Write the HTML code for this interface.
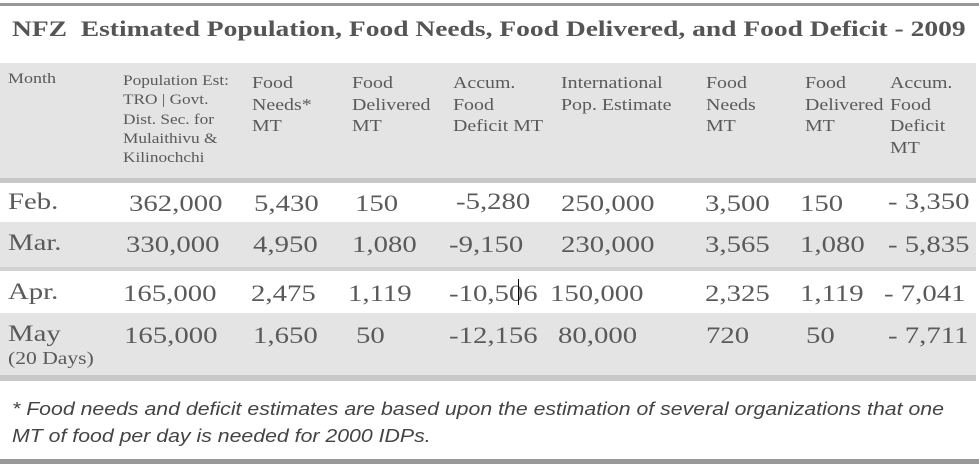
<!DOCTYPE html>
<html><head><style>
body{margin:0;width:979px;height:468px;background:#fff;position:relative;overflow:hidden;font-family:"Liberation Serif",serif;color:#5a5a5a}
div{position:absolute}
.t{white-space:nowrap;transform-origin:0 0}
.h{font-size:17px;line-height:21.5px;top:72px;transform:scaleX(1.17);transform-origin:0 0;white-space:nowrap}
.d{font-size:23px;white-space:nowrap;transform:scaleX(1.25);transform-origin:0 0}
</style></head><body>
<div style="left:0;top:3px;width:979px;height:3px;background:#999"></div>
<div class="t" style="left:12px;top:16px;font-size:22px;font-weight:bold;color:#555;transform:scaleX(1.25)">NFZ&nbsp; Estimated Population, Food Needs, Food Delivered, and Food Deficit - 2009</div>
<div style="left:0;top:63px;width:976px;height:115px;background:#e4e4e4"></div>
<div style="left:0;top:178px;width:976px;height:5px;background:#c8c8c8"></div>
<div style="left:0;top:222px;width:976px;height:45px;background:#e4e4e4"></div>
<div style="left:0;top:267px;width:976px;height:4px;background:#d2d2d2"></div>
<div style="left:0;top:313px;width:976px;height:62px;background:#e4e4e4"></div>
<div style="left:0;top:375px;width:976px;height:6px;background:#c8c8c8"></div>
<div style="left:0;top:459px;width:979px;height:5px;background:#999"></div>

<div class="t" style="left:8px;top:71px;font-size:15px;transform:scaleX(1.2)">Month</div>
<div class="t" style="left:123px;top:72px;font-size:15px;line-height:19.3px;transform:scaleX(1.15)">Population Est:<br>TRO | Govt.<br>Dist. Sec. for<br>Mulaithivu &amp;<br>Kilinochchi</div>
<div class="h" style="left:252px">Food<br>Needs*<br>MT</div>
<div class="h" style="left:352px">Food<br>Delivered<br>MT</div>
<div class="h" style="left:453px">Accum.<br>Food<br>Deficit MT</div>
<div class="h" style="left:561px">International<br>Pop. Estimate</div>
<div class="h" style="left:706px">Food<br>Needs<br>MT</div>
<div class="h" style="left:805px">Food<br>Delivered<br>MT</div>
<div class="h" style="left:890px">Accum.<br>Food<br>Deficit<br>MT</div>

<div class="d" style="left:8px;top:189px">Feb.</div>
<div class="d" style="left:129px;top:191px">362,000</div>
<div class="d" style="left:254px;top:191px">5,430</div>
<div class="d" style="left:355px;top:191px">150</div>
<div class="d" style="left:456px;top:189px">-5,280</div>
<div class="d" style="left:561px;top:191px">250,000</div>
<div class="d" style="left:705px;top:191px">3,500</div>
<div class="d" style="left:800px;top:191px">150</div>
<div class="d" style="left:888px;top:189px">- 3,350</div>

<div class="d" style="left:8px;top:230px">Mar.</div>
<div class="d" style="left:126px;top:232px">330,000</div>
<div class="d" style="left:253px;top:232px">4,950</div>
<div class="d" style="left:352px;top:232px">1,080</div>
<div class="d" style="left:449px;top:232px">-9,150</div>
<div class="d" style="left:561px;top:232px">230,000</div>
<div class="d" style="left:705px;top:232px">3,565</div>
<div class="d" style="left:800px;top:232px">1,080</div>
<div class="d" style="left:888px;top:232px">- 5,835</div>

<div class="d" style="left:8px;top:279px">Apr.</div>
<div class="d" style="left:123px;top:281px">165,000</div>
<div class="d" style="left:251px;top:281px">2,475</div>
<div class="d" style="left:348px;top:281px">1,119</div>
<div class="d" style="left:449px;top:281px">-10,506</div>
<div style="left:518px;top:279px;width:1px;height:26px;background:#000"></div>
<div class="d" style="left:550px;top:281px">150,000</div>
<div class="d" style="left:705px;top:281px">2,325</div>
<div class="d" style="left:800px;top:281px">1,119</div>
<div class="d" style="left:884px;top:281px">- 7,041</div>

<div class="d" style="left:8px;top:321px">May</div>
<div class="t" style="left:8px;top:348px;font-size:18px;transform:scaleX(1.2)">(20 Days)</div>
<div class="d" style="left:124px;top:323px">165,000</div>
<div class="d" style="left:253px;top:323px">1,650</div>
<div class="d" style="left:356px;top:323px">50</div>
<div class="d" style="left:449px;top:323px">-12,156</div>
<div class="d" style="left:558px;top:323px">80,000</div>
<div class="d" style="left:706px;top:323px">720</div>
<div class="d" style="left:806px;top:323px">50</div>
<div class="d" style="left:888px;top:323px">- 7,711</div>

<div class="t" style="left:12px;top:395px;font-family:'Liberation Sans',sans-serif;font-style:italic;font-size:18.5px;line-height:27px;color:#444;transform:scaleX(1.15)">* Food needs and deficit estimates are based upon the estimation of several organizations that one<br>MT of food per day is needed for 2000 IDPs.</div>
</body></html>
